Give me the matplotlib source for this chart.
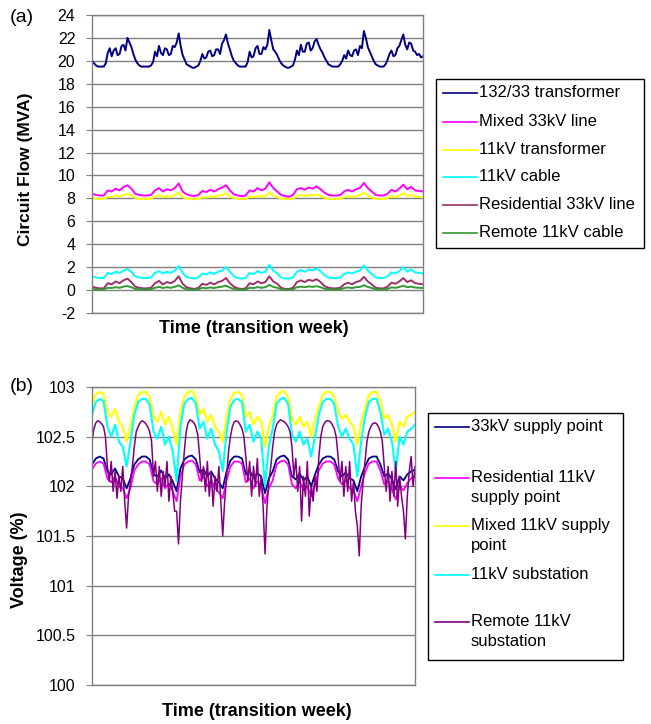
import matplotlib
matplotlib.use("Agg")
import matplotlib.pyplot as plt
from matplotlib.lines import Line2D
from matplotlib.patches import Rectangle

plt.rcParams["font.family"] = ["Liberation Sans", "DejaVu Sans"]
plt.rcParams["axes.unicode_minus"] = False

# time axis, hours over the transition week
hours = list(range(0, 169, 2))
hours_fine = list(range(0, 169))

# (a) circuit flows, MVA (132/33 hourly, the rest every 2 hours)
flow_132_33 = [
    20.0, 19.8, 19.6, 19.5, 19.5, 19.5, 19.5, 19.8, 20.7, 21.1, 20.4, 20.9,
    21.1, 20.5, 20.6, 21.3, 21.4, 20.9, 22.0, 21.6, 21.2, 20.6, 20.1, 19.8,
    19.6, 19.5, 19.5, 19.5, 19.5, 19.5, 19.6, 19.9, 20.8, 20.4, 21.3, 20.7,
    20.5, 21.1, 21.0, 20.5, 20.6, 21.3, 21.2, 21.6, 22.4, 21.3, 20.5, 20.1,
    19.7, 19.6, 19.5, 19.4, 19.4, 19.5, 19.6, 20.0, 20.6, 20.2, 20.3, 20.8,
    20.9, 20.4, 20.5, 21.0, 21.0, 20.6, 21.5, 21.8, 22.3, 21.5, 21.0, 20.4,
    20.0, 19.8, 19.6, 19.5, 19.5, 19.5, 19.5, 19.9, 20.8, 20.3, 20.4, 21.1,
    21.3, 20.6, 20.6, 21.2, 21.0, 21.4, 22.7, 21.8, 21.0, 20.8, 20.5, 20.1,
    19.8, 19.6, 19.5, 19.4, 19.4, 19.5, 19.6, 20.1, 20.9, 20.5, 21.4, 20.8,
    20.8, 21.5, 21.6, 20.9, 21.1, 21.7, 21.9, 21.4, 21.0, 20.7, 20.3, 20.0,
    19.7, 19.6, 19.5, 19.5, 19.5, 19.5, 19.7, 20.0, 20.5, 20.2, 20.9, 20.5,
    20.4, 20.9, 21.0, 20.5, 21.3, 21.1, 22.6, 22.0, 21.2, 20.8, 20.4, 20.0,
    19.7, 19.6, 19.5, 19.5, 19.5, 19.7, 20.1, 20.6, 20.9, 20.4, 20.5, 21.1,
    21.3, 21.8, 22.3, 21.4, 21.0, 21.6, 21.5, 20.9, 20.8, 20.5, 20.6, 20.3,
    20.4,
]
flow_mixed_33 = [
    8.4, 8.3, 8.25, 8.25, 8.7, 8.6, 8.85, 8.7, 9.0, 9.15, 8.85, 8.4,
    8.3, 8.25, 8.25, 8.3, 8.7, 8.9, 8.6, 8.8, 8.7, 8.9, 9.3, 8.6,
    8.35, 8.25, 8.2, 8.3, 8.65, 8.55, 8.75, 8.6, 8.8, 8.95, 9.15, 8.7,
    8.35, 8.25, 8.2, 8.25, 8.7, 8.6, 8.9, 8.7, 8.85, 9.4, 8.9, 8.6,
    8.3, 8.2, 8.15, 8.3, 8.8, 8.9, 8.75, 8.95, 8.85, 9.05, 8.8, 8.5,
    8.3, 8.25, 8.25, 8.3, 8.6, 8.75, 8.6, 8.8, 8.9, 9.35, 8.9, 8.6,
    8.3, 8.25, 8.25, 8.4, 8.75, 8.6, 8.85, 9.2, 8.8, 9.0, 8.7, 8.65,
    8.6,
]
flow_11_tx = [
    8.05, 7.98, 7.95, 7.95, 8.15, 8.1, 8.25, 8.15, 8.3, 8.4, 8.25, 8.02,
    7.97, 7.95, 7.95, 7.97, 8.15, 8.3, 8.1, 8.2, 8.15, 8.3, 8.5, 8.1,
    8.0, 7.95, 7.93, 7.97, 8.1, 8.05, 8.2, 8.1, 8.25, 8.3, 8.45, 8.15,
    8.02, 7.96, 7.94, 7.95, 8.15, 8.1, 8.25, 8.15, 8.2, 8.5, 8.25, 8.1,
    7.98, 7.94, 7.93, 7.97, 8.2, 8.3, 8.2, 8.3, 8.25, 8.35, 8.2, 8.05,
    7.97, 7.95, 7.95, 7.98, 8.1, 8.2, 8.1, 8.2, 8.3, 8.5, 8.25, 8.08,
    7.97, 7.95, 7.95, 8.02, 8.2, 8.1, 8.25, 8.45, 8.2, 8.3, 8.15, 8.12,
    8.1,
]
flow_11_cable = [
    1.2, 1.1, 1.05, 1.05, 1.5, 1.4, 1.6, 1.5, 1.7, 1.85, 1.6, 1.2,
    1.1, 1.05, 1.05, 1.1, 1.5, 1.65, 1.45, 1.6, 1.5, 1.7, 2.1, 1.5,
    1.15, 1.05, 1.0, 1.1, 1.45, 1.35, 1.55, 1.4, 1.6, 1.7, 2.0, 1.6,
    1.2, 1.05, 1.0, 1.05, 1.5, 1.4, 1.65, 1.5, 1.6, 2.2, 1.7, 1.45,
    1.1, 1.0, 1.0, 1.1, 1.6, 1.75, 1.6, 1.8, 1.7, 1.9, 1.65, 1.3,
    1.1, 1.05, 1.05, 1.1, 1.4, 1.55, 1.45, 1.6, 1.7, 2.15, 1.7, 1.4,
    1.1, 1.05, 1.05, 1.2, 1.55, 1.45, 1.65, 2.0, 1.6, 1.8, 1.55, 1.5,
    1.45,
]
flow_res_33 = [
    0.3, 0.2, 0.15, 0.15, 0.6, 0.5, 0.75, 0.6, 0.85, 1.0, 0.7, 0.3,
    0.2, 0.15, 0.15, 0.2, 0.6, 0.8, 0.5, 0.7, 0.6, 0.8, 1.2, 0.55,
    0.25, 0.15, 0.1, 0.2, 0.55, 0.45, 0.65, 0.5, 0.7, 0.8, 1.05, 0.6,
    0.3, 0.15, 0.1, 0.15, 0.6, 0.5, 0.75, 0.6, 0.7, 1.2, 0.75, 0.55,
    0.2, 0.1, 0.1, 0.2, 0.7, 0.85, 0.7, 0.9, 0.8, 0.95, 0.7, 0.35,
    0.2, 0.15, 0.15, 0.2, 0.5, 0.65, 0.5, 0.7, 0.8, 1.15, 0.75, 0.5,
    0.2, 0.15, 0.15, 0.3, 0.65, 0.55, 0.75, 1.05, 0.7, 0.85, 0.6, 0.55,
    0.5,
]
flow_remote_11 = [
    0.1, 0.07, 0.05, 0.05, 0.2, 0.18, 0.25, 0.2, 0.3, 0.35, 0.25, 0.1,
    0.07, 0.05, 0.05, 0.07, 0.2, 0.28, 0.18, 0.25, 0.2, 0.28, 0.42, 0.2,
    0.08, 0.05, 0.04, 0.07, 0.2, 0.16, 0.23, 0.18, 0.25, 0.3, 0.38, 0.22,
    0.1, 0.05, 0.04, 0.05, 0.2, 0.18, 0.26, 0.2, 0.25, 0.45, 0.27, 0.2,
    0.07, 0.04, 0.04, 0.07, 0.25, 0.3, 0.25, 0.32, 0.28, 0.34, 0.25, 0.12,
    0.07, 0.05, 0.05, 0.07, 0.18, 0.23, 0.18, 0.25, 0.28, 0.42, 0.27, 0.18,
    0.07, 0.05, 0.05, 0.1, 0.23, 0.2, 0.27, 0.38, 0.25, 0.3, 0.22, 0.2,
    0.18,
]

# (b) voltages, %, every 2 hours (remote substation hourly)
volt_33_supply = [
    102.22, 102.28, 102.3, 102.28, 102.15, 102.12, 102.18, 102.1, 102.08, 101.98, 102.08, 102.22,
    102.27, 102.3, 102.3, 102.27, 102.12, 102.1, 102.16, 102.08, 102.12, 102.05, 101.95, 102.18,
    102.27, 102.3, 102.31, 102.27, 102.14, 102.17, 102.1, 102.15, 102.08, 102.04, 101.98, 102.15,
    102.26, 102.3, 102.3, 102.28, 102.12, 102.16, 102.08, 102.13, 102.1, 101.93, 102.08, 102.15,
    102.27, 102.3, 102.31, 102.27, 102.1, 102.07, 102.13, 102.06, 102.1, 102.0, 102.12, 102.22,
    102.28, 102.3, 102.3, 102.27, 102.15, 102.1, 102.14, 102.08, 102.06, 101.95, 102.1, 102.2,
    102.28, 102.3, 102.3, 102.22, 102.1, 102.13, 102.07, 101.97, 102.1, 102.06, 102.12, 102.15,
    102.17,
]
volt_res_11 = [
    102.17, 102.23, 102.25, 102.23, 102.08, 102.04, 102.1, 102.0, 101.98, 101.88, 101.98, 102.16,
    102.22, 102.25, 102.25, 102.22, 102.05, 102.02, 102.08, 101.98, 102.03, 101.95, 101.85, 102.1,
    102.22, 102.25, 102.26, 102.22, 102.06, 102.1, 102.0, 102.06, 101.98, 101.94, 101.88, 102.06,
    102.2, 102.25, 102.25, 102.23, 102.04, 102.08, 101.98, 102.05, 102.0, 101.83, 101.98, 102.06,
    102.22, 102.25, 102.26, 102.22, 102.02, 101.98, 102.05, 101.96, 102.0, 101.9, 102.03, 102.16,
    102.23, 102.25, 102.25, 102.22, 102.08, 102.02, 102.06, 101.98, 101.96, 101.85, 102.0, 102.14,
    102.23, 102.25, 102.25, 102.16, 102.02, 102.05, 101.97, 101.87, 102.0, 101.96, 102.03, 102.08,
    102.1,
]
volt_mixed_11 = [
    102.82, 102.93, 102.95, 102.93, 102.75, 102.7, 102.78, 102.65, 102.6, 102.45, 102.6, 102.8,
    102.92, 102.95, 102.95, 102.9, 102.7, 102.65, 102.75, 102.62, 102.7, 102.58, 102.42, 102.75,
    102.9, 102.95, 102.96, 102.9, 102.72, 102.78, 102.65, 102.72, 102.6, 102.55, 102.45, 102.7,
    102.88, 102.94, 102.95, 102.92, 102.7, 102.75, 102.62, 102.7, 102.65, 102.4, 102.6, 102.72,
    102.9, 102.95, 102.96, 102.9, 102.68, 102.62, 102.7, 102.6, 102.65, 102.5, 102.68, 102.8,
    102.92, 102.95, 102.95, 102.9, 102.75, 102.68, 102.72, 102.65, 102.6, 102.42, 102.65, 102.78,
    102.92, 102.95, 102.95, 102.85, 102.68, 102.72, 102.62, 102.45, 102.65, 102.6, 102.7, 102.72,
    102.75,
]
volt_11_sub = [
    102.72, 102.85, 102.88, 102.86, 102.6, 102.5, 102.62, 102.45, 102.4, 102.2, 102.45, 102.72,
    102.85, 102.88, 102.88, 102.82, 102.55, 102.48, 102.6, 102.42, 102.5, 102.35, 102.05, 102.6,
    102.83, 102.88, 102.89, 102.83, 102.58, 102.65, 102.48, 102.58, 102.42, 102.35, 102.15, 102.55,
    102.8, 102.87, 102.88, 102.85, 102.55, 102.62, 102.45, 102.55, 102.48, 102.0, 102.4, 102.58,
    102.83, 102.88, 102.89, 102.83, 102.52, 102.45, 102.55, 102.42, 102.48, 102.3, 102.5, 102.72,
    102.85, 102.88, 102.88, 102.83, 102.6, 102.5, 102.58, 102.48, 102.42, 102.1, 102.45, 102.7,
    102.85, 102.88, 102.88, 102.75, 102.52, 102.58, 102.45, 102.15, 102.5, 102.42, 102.55, 102.58,
    102.62,
]
volt_remote_11 = [
    102.45, 102.58, 102.64, 102.66, 102.65, 102.63, 102.6, 102.5, 102.2, 102.05, 102.25, 101.95,
    102.15, 101.88, 102.1, 101.95, 102.2, 101.85, 101.58, 101.9, 102.05, 102.2, 102.4, 102.55,
    102.6, 102.64, 102.66, 102.65, 102.63, 102.6, 102.55, 102.45, 102.1, 102.25, 101.95, 102.2,
    101.9, 102.15, 102.0, 102.25, 101.85, 102.1, 101.95, 101.75, 101.75, 101.42, 101.85, 102.1,
    102.35, 102.55, 102.64, 102.67, 102.66, 102.64, 102.6, 102.52, 102.3, 102.05, 102.2, 101.95,
    102.25, 101.9, 102.15, 101.8, 102.1, 101.95, 102.2, 101.85, 101.5, 101.85, 102.1, 102.35,
    102.5, 102.6, 102.65, 102.66, 102.65, 102.62, 102.58, 102.5, 102.3, 102.05, 102.25, 101.9,
    102.2, 102.0, 102.28, 101.9, 102.1, 101.8, 101.32, 101.8, 102.05, 102.2, 102.4, 102.55,
    102.62, 102.65, 102.67, 102.66, 102.65, 102.63, 102.6, 102.55, 102.4, 102.1, 102.28, 101.95,
    102.2, 101.65, 102.1, 101.9, 102.25, 101.7, 102.0, 101.85, 102.1, 101.95, 102.3, 102.5,
    102.6, 102.64, 102.66, 102.66, 102.65, 102.62, 102.58, 102.5, 102.3, 102.05, 102.25, 101.9,
    102.2, 101.95, 102.25, 101.85, 102.05, 101.75, 101.6, 101.3, 101.8, 102.05, 102.25, 102.45,
    102.55, 102.6, 102.63, 102.64, 102.63, 102.6, 102.55, 102.45, 102.2, 101.95, 102.2, 101.85,
    102.15, 101.9, 102.25, 101.8, 102.1, 101.9, 101.75, 101.47, 101.9, 102.15, 102.3, 102.0,
    102.2,
]

flow_labels = ["132/33 transformer", "Mixed 33kV line", "11kV transformer",
               "11kV cable", "Residential 33kV line", "Remote 11kV cable"]
flow_colors = ["#000080", "#ff00ff", "#ffff00", "#00ffff", "#993366", "#339933"]
volt_labels = ["33kV supply point", "Residential 11kV\nsupply point",
               "Mixed 11kV supply\npoint", "11kV substation", "Remote 11kV\nsubstation"]
volt_colors = ["#000080", "#ff00ff", "#ffff00", "#00ffff", "#800080"]

GRID = "#808080"
W, H = 651, 724


def style_axes(ax):
    ax.set_facecolor("white")
    for s in ax.spines.values():
        s.set_color(GRID)
        s.set_linewidth(1.0)
    ax.yaxis.grid(True, color=GRID, linewidth=1.0)
    ax.set_axisbelow(True)
    ax.set_xticks([])
    ax.tick_params(axis="y", length=4, color=GRID, labelsize=11.5, pad=8)


def draw_legend(fig, box, items):
    """box in pixels (x0, y0, x1, y1), items = (y_px, label, color)"""
    x0, y0, x1, y1 = box
    fig.add_artist(Rectangle((x0 / W, 1 - y1 / H), (x1 - x0) / W, (y1 - y0) / H,
                             transform=fig.transFigure, facecolor="white",
                             edgecolor="black", linewidth=1.0))
    for y, label, color in items:
        fig.add_artist(Line2D([(x0 + 7) / W, (x0 + 41) / W], [1 - y / H] * 2,
                              transform=fig.transFigure, color=color, linewidth=1.2))
        fig.text((x0 + 43) / W, 1 - (y - 8) / H, label, fontsize=12, va="top",
                 ha="left", linespacing=1.4)


fig = plt.figure(figsize=(W / 100, H / 100), dpi=100)

# panel (a)
ax1 = fig.add_axes([92 / W, 1 - 313 / H, 331 / W, 298 / H])
style_axes(ax1)
ax1.plot(hours_fine, flow_132_33, color=flow_colors[0], linewidth=1.4)
series_a = [flow_mixed_33, flow_11_tx, flow_11_cable, flow_res_33, flow_remote_11]
for vals, c in zip(series_a, flow_colors[1:]):
    ax1.plot(hours, vals, color=c, linewidth=1.4)
ax1.set_xlim(0, 168)
ax1.set_ylim(-2, 24)
ax1.set_yticks(range(-2, 25, 2))
ax1.set_ylabel("Circuit Flow (MVA)", fontsize=12.5, fontweight="bold")
ax1.yaxis.set_label_coords(-0.178, 0.483)
ax1.set_xlabel("Time (transition week)", fontsize=13, fontweight="bold")
ax1.xaxis.set_label_coords(0.49, -0.025)
fig.text(10 / W, 1 - 9 / H, "(a)", fontsize=14, va="top")

draw_legend(fig, (436, 79, 644, 248),
            list(zip([93, 122, 150, 177, 205, 233], flow_labels, flow_colors)))

# panel (b)
ax2 = fig.add_axes([92 / W, 1 - 685 / H, 323 / W, 298 / H])
style_axes(ax2)
ax2.plot(hours, volt_33_supply, color=volt_colors[0], linewidth=1.3)
ax2.plot(hours, volt_res_11, color=volt_colors[1], linewidth=1.3)
ax2.plot(hours, volt_mixed_11, color=volt_colors[2], linewidth=1.5)
ax2.plot(hours, volt_11_sub, color=volt_colors[3], linewidth=1.5)
ax2.plot(hours_fine, volt_remote_11, color=volt_colors[4], linewidth=1.1)
ax2.set_xlim(0, 168)
ax2.set_ylim(100, 103)
ax2.set_yticks([100, 100.5, 101, 101.5, 102, 102.5, 103])
ax2.set_yticklabels(["100", "100.5", "101", "101.5", "102", "102.5", "103"])
ax2.set_ylabel("Voltage (%)", fontsize=13, fontweight="bold")
ax2.yaxis.set_label_coords(-0.198, 0.42)
ax2.set_xlabel("Time (transition week)", fontsize=13, fontweight="bold")
ax2.xaxis.set_label_coords(0.51, -0.06)
fig.text(10 / W, 1 - 378 / H, "(b)", fontsize=14, va="top")

draw_legend(fig, (428, 413, 623, 660),
            list(zip([427, 478, 526, 575, 622], volt_labels, volt_colors)))

fig.savefig("out.png", dpi=100)
